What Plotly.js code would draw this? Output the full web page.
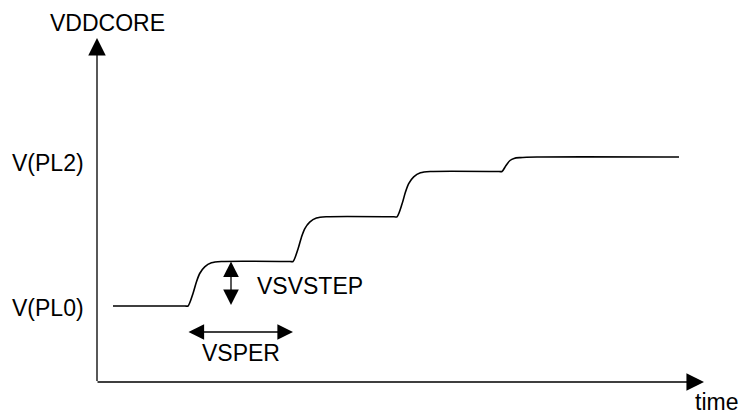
<!DOCTYPE html>
<html>
<head>
<meta charset="utf-8">
<script src="https://cdn.plot.ly/plotly-3.0.1.min.js"></script>
<style>
  body { margin: 0; background: #fff; }
  #chart { width: 740px; height: 415px; }
</style>
</head>
<body>
<div id="chart"></div>
<script>
// time / voltage in diagram units, origin at the axes corner
var curveTime = [16, 60, 88, 91, 96, 99.4, 102.7, 107.7, 114.4, 124.4,
                 193, 196, 201, 204.4, 207.7, 212.7, 219.4, 229.4,
                 297, 300, 305, 308.4, 311.7, 316.7, 323.4, 333.4,
                 402, 405, 409, 413, 417, 423, 440, 582];
var curveVolt = [76, 76, 76, 76, 88.5, 100, 108.5, 115.2, 119.2, 120.5,
                 120.5, 120.5, 133, 144.6, 153.1, 159.8, 163.9, 165.2,
                 165.2, 165.2, 177.9, 189.7, 198.3, 205.1, 209.2, 210.5,
                 210.5, 210.5, 216.5, 221.5, 223.6, 224.4, 225, 225];

var levelNames = ["V(PL0)", "V(PL2)"];
var levelVolts = [74.5, 219.5];

// one step: start of first and second transition, low and high level
var stepStart = [91, 196];
var stepLevel = [76, 120.5];

var axisEnd = {time: 607, volt: 344};

var black = "#000";
var fontFam = "Liberation Sans, Arial, sans-serif";

var trace = {
  x: curveTime,
  y: curveVolt,
  type: "scatter",
  mode: "lines",
  line: {color: black, width: 1.6, shape: "spline", smoothing: 0.8},
  hoverinfo: "skip"
};

function arrow(x, y, ax, ay, both, size) {
  return {
    x: x, y: y, ax: ax, ay: ay,
    xref: "x", yref: "y", axref: "x", ayref: "y",
    text: " ", font: {size: 1}, borderpad: 0,
    showarrow: true, arrowhead: 2, arrowsize: size, arrowwidth: 1.3,
    arrowcolor: black, arrowside: both ? "end+start" : "end",
    startarrowhead: 2, startarrowsize: size
  };
}

function label(text, x, y) {
  return {
    x: x, y: y, xref: "x", yref: "y", text: text, showarrow: false,
    font: {family: fontFam, size: 23, color: black},
    xanchor: "center", yanchor: "middle"
  };
}

var annotations = [
  arrow(0, axisEnd.volt, 0, 0, false, 2.7),
  arrow(axisEnd.time, 0, 0, 0, false, 2.7),
  arrow(134, stepLevel[1], 134, stepLevel[0], true, 2.4),
  arrow(stepStart[1], 50, stepStart[0], 50, true, 2.4),
  label("VDDCORE", 10, 359),
  label(levelNames[1], -49, levelVolts[1]),
  label(levelNames[0], -49, levelVolts[0]),
  label("VSVSTEP", 212.5, 96),
  label("VSPER", 144, 29),
  label("time", 619, -20)
];

var hidden = {
  showgrid: false, zeroline: false, showticklabels: false,
  showline: false, ticks: "", fixedrange: true
};

var layout = {
  width: 740, height: 415,
  margin: {l: 0, r: 0, t: 0, b: 0},
  paper_bgcolor: "#fff", plot_bgcolor: "#fff",
  showlegend: false,
  xaxis: Object.assign({range: [-97, 643]}, hidden),
  yaxis: Object.assign({range: [-33, 382]}, hidden),
  annotations: annotations
};

Plotly.newPlot("chart", [trace], layout, {displayModeBar: false, staticPlot: true});
</script>
</body>
</html>
